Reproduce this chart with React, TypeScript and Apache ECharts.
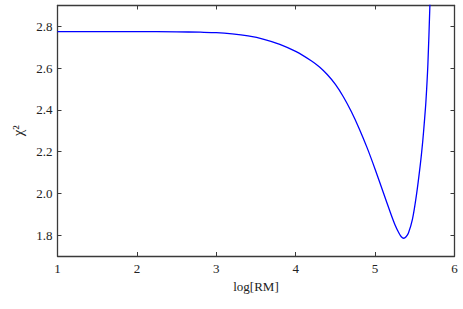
import React, { useEffect, useRef } from "react";
import * as echarts from "echarts";

const logRM = [1, 2, 2.5, 2.8, 3.0, 3.2, 3.4, 3.6, 3.8, 4.0, 4.2, 4.3, 4.4, 4.5, 4.6, 4.7, 4.8, 4.9, 5.0, 5.1, 5.2, 5.25, 5.3, 5.33, 5.36, 5.39, 5.42, 5.47, 5.52, 5.57, 5.6, 5.62, 5.64, 5.665, 5.69, 5.72];
const chi2 = [2.775, 2.775, 2.774, 2.772, 2.770, 2.764, 2.754, 2.738, 2.714, 2.680, 2.634, 2.605, 2.568, 2.522, 2.463, 2.392, 2.310, 2.218, 2.116, 2.008, 1.900, 1.850, 1.810, 1.792, 1.785, 1.792, 1.810, 1.875, 1.99, 2.14, 2.25, 2.34, 2.44, 2.62, 2.90, 3.28];
const xTicks = [1, 2, 3, 4, 5, 6];

const FONT = "Liberation Serif";

export default function App() {
  const ref = useRef<HTMLDivElement>(null);
  useEffect(() => {
    const chart = echarts.init(ref.current!, null, { renderer: "svg" });
    const axisLine = { show: true, lineStyle: { color: "#3a3a3a", width: 1.3 } };
    const tick = { show: true, inside: true, length: 4, lineStyle: { color: "#3a3a3a", width: 1 } };
    chart.setOption({
      animation: false,
      backgroundColor: "#ffffff",
      textStyle: { fontFamily: FONT },
      grid: { left: 57.5, right: 8.5, top: 5.5, bottom: 53, containLabel: false },
      xAxis: [
        {
          type: "value",
          min: xTicks[0],
          max: xTicks[xTicks.length - 1],
          interval: 1,
          name: "log[RM]",
          nameLocation: "middle",
          nameGap: 22,
          nameTextStyle: { fontFamily: FONT, fontSize: 13, color: "#222" },
          axisLine,
          axisTick: tick,
          axisLabel: { fontFamily: FONT, fontSize: 13, color: "#222", margin: 6 },
          splitLine: { show: false },
        },
        {
          type: "value",
          position: "top",
          min: xTicks[0],
          max: xTicks[xTicks.length - 1],
          interval: 1,
          axisLine,
          axisTick: tick,
          axisLabel: { show: false },
          splitLine: { show: false },
        },
      ],
      yAxis: [
        {
          type: "value",
          min: 1.7,
          max: 2.9,
          splitNumber: 6,
          name: "χ²",
          nameLocation: "middle",
          nameGap: 25,
          nameTextStyle: { fontFamily: FONT, fontSize: 15, color: "#222" },
          axisLine,
          axisTick: tick,
          axisLabel: {
            fontFamily: FONT,
            fontSize: 13,
            color: "#222",
            margin: 5,
            showMinLabel: false,
            showMaxLabel: false,
            formatter: (v: number) => v.toFixed(1),
          },
          splitLine: { show: false },
        },
        {
          type: "value",
          position: "right",
          min: 1.7,
          max: 2.9,
          splitNumber: 6,
          axisLine,
          axisTick: tick,
          axisLabel: { show: false },
          splitLine: { show: false },
        },
      ],
      series: [
        {
          type: "line",
          data: logRM.map((x, i) => [x, chi2[i]]),
          smooth: 0.3,
          showSymbol: false,
          clip: true,
          lineStyle: { color: "#0000ff", width: 1.3 },
        },
      ],
    });
    return () => chart.dispose();
  }, []);
  return (
    <div
      ref={ref}
      style={{ position: "fixed", left: 0, top: 0, width: 463, height: 309, background: "#fff" }}
    />
  );
}
